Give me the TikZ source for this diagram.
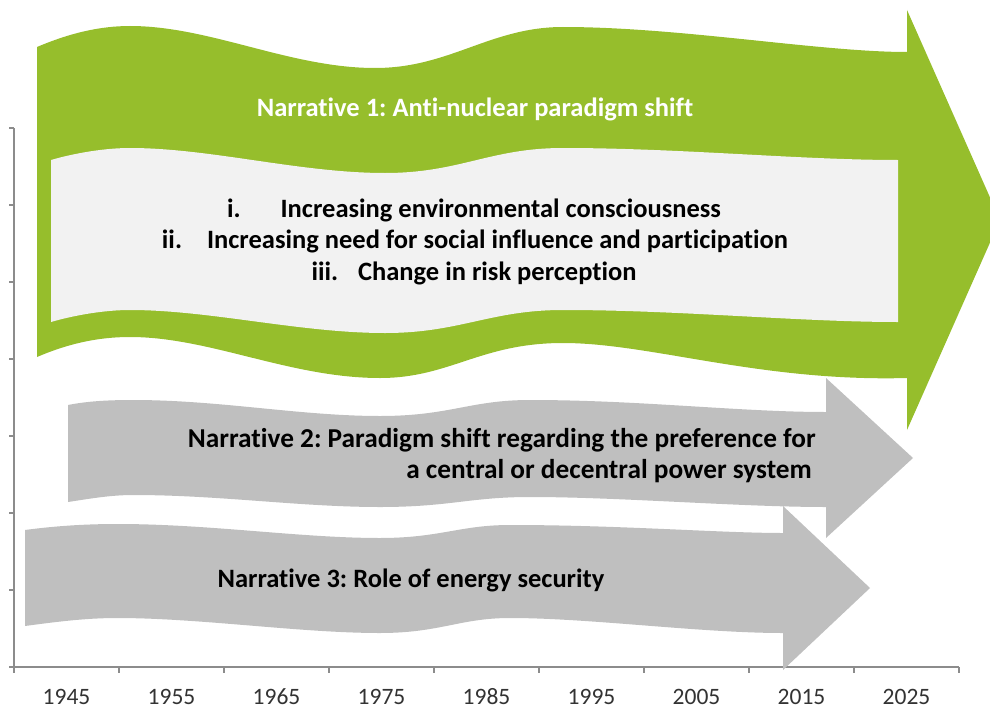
\documentclass[tikz,border=0pt]{standalone}
\usepackage{fontspec}
\setmainfont{Carlito}[Ligatures={NoCommon}]
\frenchspacing
\definecolor{narrgreen}{RGB}{150,190,44}
\definecolor{narrgrey}{RGB}{191,191,191}
\definecolor{narrlight}{RGB}{242,242,242}
\definecolor{axisgrey}{RGB}{140,140,140}
\begin{document}
\begin{tikzpicture}[x=1pt,y=-1pt,
	txt/.style={inner sep=0pt,font=\fontsize{26.5}{31}\selectfont\bfseries},
	yr/.style={inner sep=0pt,anchor=base,text=black!80,font=\fontsize{23.5}{28}\selectfont},
	ax/.style={axisgrey,line width=1.4pt}]
	\useasboundingbox (0,0) rectangle (990,709);
	\clip (0,0) rectangle (990,709);
	% axes with ticks and years
	\draw[ax](14,128)--(14,667)--(959,667);
	\foreach \k in {0,...,7} \draw[ax](9,128+77*\k)--(14,128+77*\k);
	\foreach \i in {0,...,9} \draw[ax](14+105*\i,667)--(14+105*\i,673);
	\foreach \yr [count=\i from 0] in {1945,1955,...,2025}
		\node[yr] (y\yr) at (66.5+105*\i,704) {\yr};
	% narrative 3
	\fill[narrgrey](25,530) .. controls (55,526) and (85,524) .. (117,524)
		.. controls (210,524) and (300,538) .. (380,538)
		.. controls (440,538) and (460,525) .. (510,525)
		.. controls (620,525) and (720,533) .. (783,533)
		--(783,506)--(870,588)--(783,670)--(783,633)
		.. controls (700,633) and (590,618) .. (510,618)
		.. controls (460,618) and (440,633) .. (380,633)
		.. controls (300,633) and (200,618) .. (117,618)
		.. controls (85,618) and (55,622) .. (25,626)--cycle;
	% narrative 2
	\fill[narrgrey](68,405) .. controls (88,401) and (110,400) .. (133,400)
		.. controls (220,400) and (300,416) .. (380,416)
		.. controls (450,416) and (470,400) .. (530,400)
		.. controls (640,400) and (740,412) .. (826,412)
		--(826,378)--(913,458)--(826,538)--(826,507)
		.. controls (740,507) and (620,497) .. (530,497)
		.. controls (470,497) and (450,507) .. (380,507)
		.. controls (300,507) and (220,495) .. (133,495)
		.. controls (110,495) and (88,499) .. (68,502)--cycle;
	% narrative 1
	\fill[narrgreen](37,47) .. controls (70,33) and (100,26) .. (130,26)
		.. controls (210,26) and (290,68) .. (375,68)
		.. controls (450,68) and (490,27) .. (563,27)
		.. controls (680,27) and (820,52) .. (907,52)
		--(907,10)--(1000,220)--(907,430)--(907,378)
		.. controls (760,382) and (650,343) .. (563,343)
		.. controls (480,343) and (450,378) .. (380,378)
		.. controls (290,378) and (210,337) .. (130,337)
		.. controls (95,337) and (65,345) .. (37,357)--cycle;
	\fill[narrlight](51,160) .. controls (75,153) and (105,148) .. (130,148)
		.. controls (210,148) and (300,173) .. (385,173)
		.. controls (460,173) and (490,148) .. (563,148)
		.. controls (680,148) and (800,160) .. (898,160)
		--(898,322)
		.. controls (800,322) and (680,310) .. (563,310)
		.. controls (490,310) and (460,333) .. (385,333)
		.. controls (300,333) and (210,310) .. (130,310)
		.. controls (105,310) and (75,315) .. (51,322)--cycle;
	% labels
	\node[txt,anchor=base,text=white] (n1) at (475,116) {Narrative 1: Anti-nuclear paradigm shift};
	\node[txt,anchor=base] (n1a) at (474,217) {i.\hspace{40pt}Increasing environmental consciousness};
	\node[txt,anchor=base] (n1b) at (475,248.5) {ii.\hspace{25pt}Increasing need for social influence and participation};
	\node[txt,anchor=base] (n1c) at (474,280) {iii.\hspace{20pt}Change in risk perception};
	\node[txt,anchor=base east,font=\fontsize{27.3}{31}\selectfont\bfseries] (n2a) at (816,447) {Narrative 2: Paradigm shift regarding the preference for};
	\node[txt,anchor=base east,font=\fontsize{27.3}{31}\selectfont\bfseries] (n2b) at (812,478) {a central or decentral power system};
	\node[txt,anchor=base] (n3) at (411,587) {Narrative 3: Role of energy security};
\end{tikzpicture}
\end{document}
